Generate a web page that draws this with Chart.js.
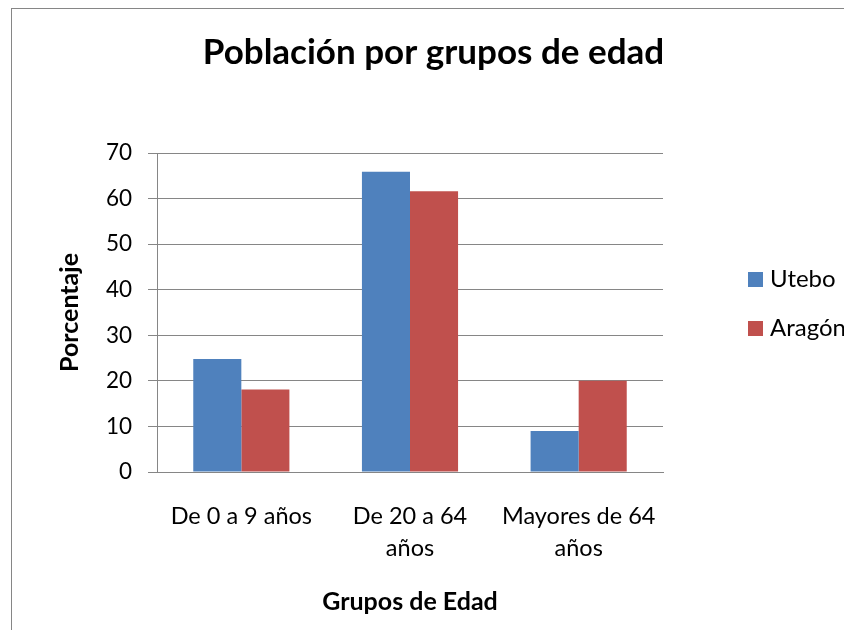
<!DOCTYPE html>
<html><head><meta charset="utf-8">
<script src="https://cdn.jsdelivr.net/npm/chart.js@4/dist/chart.umd.min.js"></script>
<style>
html,body{margin:0;padding:0;background:#fff;overflow:hidden;width:844px;height:630px;}
#wrap{position:relative;width:844px;height:630px;overflow:hidden;}
#frame{position:absolute;left:11px;top:8px;width:900px;height:700px;border-left:1px solid #868686;border-top:1px solid #868686;}
canvas{position:absolute;left:0;top:0;}
</style></head>
<body><div id="wrap"><div id="frame"></div><canvas id="c" width="844" height="630"></canvas></div>
<script>
const chartTitle = 'Población por grupos de edad';
const categories = [['De 0 a 9 años'], ['De 20 a 64', 'años'], ['Mayores de 64', 'años']];
const seriesNames = ['Utebo', 'Aragón'];
const utebo = [24.8, 65.9, 9.0];
const aragon = [18.1, 61.6, 20.0];
const yMin = 0, yMax = 70, yStep = 10;
const xAxisTitle = 'Grupos de Edad';
const yAxisTitle = 'Porcentaje';
const colors = ['#4F81BD', '#C0504D'];

const FONT = 'Lato, Carlito, Calibri, sans-serif';

const overlay = {
  id: 'overlay',
  afterDraw(chart) {
    const ctx = chart.ctx;
    ctx.save();
    ctx.fillStyle = '#000';
    ctx.textAlign = 'center';
    ctx.textBaseline = 'middle';
    ctx.font = 'bold 35px ' + FONT;
    ctx.fillText(chartTitle, 433.5, 53);
    ctx.font = '24px ' + FONT;
    ctx.textAlign = 'left';
    const ys = [279.5, 328.5];
    chart.data.datasets.forEach((ds, i) => {
      ctx.fillStyle = ds.backgroundColor;
      ctx.fillRect(748, ys[i] - 7.5, 15, 15);
      ctx.fillStyle = '#000';
      ctx.fillText(ds.label, 770, ys[i]);
    });
    ctx.restore();
  }
};

new Chart(document.getElementById('c'), {
  type: 'bar',
  data: {
    labels: categories,
    datasets: [
      { label: seriesNames[0], data: utebo, backgroundColor: colors[0] },
      { label: seriesNames[1], data: aragon, backgroundColor: colors[1] }
    ]
  },
  plugins: [overlay],
  options: {
    responsive: false,
    animation: false,
    devicePixelRatio: 1,
    categoryPercentage: 0.57,
    barPercentage: 1.0,
    layout: { padding: { left: 12, right: 181, top: 153, bottom: 0 } },
    plugins: { legend: { display: false }, title: { display: false }, tooltip: { enabled: false } },
    scales: {
      x: {
        afterFit(s) { s.height = 158; },
        grid: { display: false, drawTicks: false },
        border: { display: true, color: '#868686', width: 1 },
        ticks: { color: '#000', font: { family: FONT, size: 23.5, lineHeight: 32 / 23.5 }, padding: 28, maxRotation: 0, autoSkip: false },
        title: { display: true, text: xAxisTitle, color: '#000', font: { family: FONT, size: 25, weight: 'bold' }, padding: { top: 0, bottom: 13 } }
      },
      y: {
        min: yMin, max: yMax,
        afterFit(s) { s.width = 145; },
        grid: { color: '#868686', lineWidth: 1, tickLength: 9 },
        border: { display: true, color: '#868686', width: 1 },
        ticks: { stepSize: yStep, color: '#000', font: { family: FONT, size: 22.5 }, padding: 16 },
        title: { display: true, text: yAxisTitle, color: '#000', font: { family: FONT, size: 25, weight: 'bold' }, padding: { top: 43, bottom: 0 } }
      }
    }
  }
});
</script>
</body></html>
